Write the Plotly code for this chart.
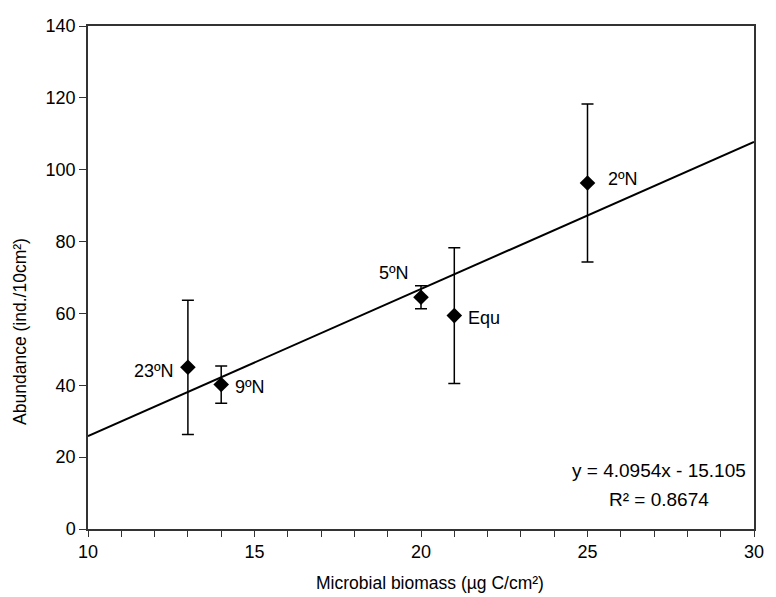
import plotly.graph_objects as go

# Data
sites = ["23ºN", "9ºN", "5ºN", "Equ", "2ºN"]
biomass = [13, 14, 20, 21, 25]
abundance = [45.0, 40.2, 64.5, 59.4, 96.3]
err = [18.7, 5.2, 3.2, 18.9, 22.0]
label_pos = ["left", "right", "topleft", "right", "right2"]

slope = 4.0954
intercept = -15.105
r2 = 0.8674
fit_x = [10, 30]
fit_y = [slope * v + intercept for v in fit_x]

x_title = "Microbial biomass (µg C/cm²)"
y_title = "Abundance (ind./10cm²)"

FONT = "Liberation Sans, Arial, sans-serif"

fig = go.Figure()
fig.add_trace(go.Scatter(
    x=fit_x, y=fit_y, mode="lines",
    line=dict(color="black", width=2), showlegend=False, hoverinfo="skip"))
fig.add_trace(go.Scatter(
    x=biomass, y=abundance, mode="markers",
    marker=dict(symbol="diamond", color="black", size=12),
    error_y=dict(type="data", array=err, visible=True, color="black",
                 thickness=1.5, width=6),
    showlegend=False))

# (xshift, yshift, xanchor, yanchor)
offsets = {"left": (-12, -4, "right", "middle"),
           "right": (12, -2, "left", "middle"),
           "right2": (18, 4, "left", "middle"),
           "topleft": (-10, 24, "right", "middle")}
for s, x, y, p in zip(sites, biomass, abundance, label_pos):
    dx, dy, xa, ya = offsets[p]
    fig.add_annotation(x=x, y=y, text=s, showarrow=False, xshift=dx, yshift=dy,
                       xanchor=xa, yanchor=ya,
                       font=dict(family=FONT, size=18, color="black"))

fig.add_annotation(x=27.15, y=16.2, text=f"y = {slope}x - {abs(intercept)}",
                   showarrow=False, xanchor="center", yanchor="middle",
                   font=dict(family=FONT, size=19, color="black"))
fig.add_annotation(x=27.15, y=8.3, text=f"R² = {r2}",
                   showarrow=False, xanchor="center", yanchor="middle",
                   font=dict(family=FONT, size=19, color="black"))

# axis titles (positioned like the reference, slightly off-centre)
fig.add_annotation(xref="paper", yref="paper", x=0.513, y=-0.108, text=x_title,
                   showarrow=False, xanchor="center", yanchor="middle",
                   font=dict(family=FONT, size=17.5, color="black"))
fig.add_annotation(xref="paper", yref="paper", x=-0.102, y=0.392, text=y_title,
                   textangle=-90, showarrow=False, xanchor="center", yanchor="middle",
                   font=dict(family=FONT, size=17.5, color="black"))

fig.update_layout(
    width=776, height=597,
    margin=dict(l=88, r=14, t=26, b=68),
    plot_bgcolor="white", paper_bgcolor="white",
    font=dict(family=FONT, size=18, color="black"),
)
fig.update_xaxes(
    range=[10, 30], tickvals=[10, 15, 20, 25, 30], ticks="outside", ticklen=6,
    tickwidth=1.2, tickcolor="#333", showline=True, linecolor="#333", linewidth=1.5,
    mirror=True, showgrid=False, zeroline=False,
    minor=dict(dtick=1, ticks="outside", ticklen=6, tickcolor="#333", showgrid=False),
    tickfont=dict(size=18),
)
fig.update_yaxes(
    range=[0, 140], dtick=20, ticks="outside", ticklen=7, tickwidth=1.2,
    tickcolor="#333", showline=True, linecolor="#333", linewidth=1.5,
    mirror=True, showgrid=False, zeroline=False,
    tickfont=dict(size=18),
)

fig.write_html("out.html")
